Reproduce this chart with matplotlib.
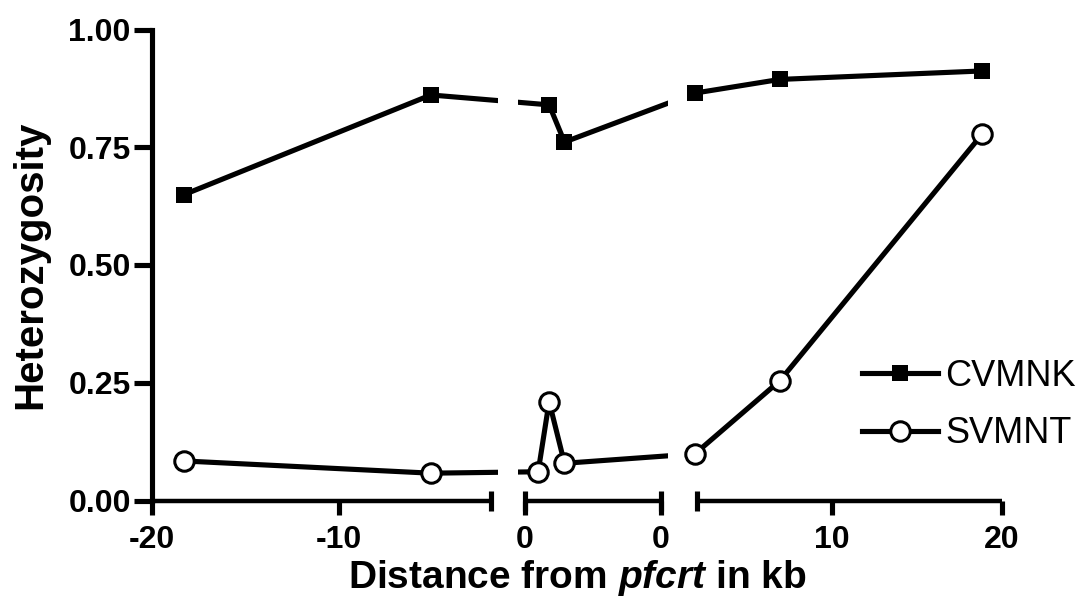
import numpy as np
import matplotlib
matplotlib.use("Agg")
import matplotlib.pyplot as plt
from matplotlib.lines import Line2D
from matplotlib.patches import Rectangle
from matplotlib.ticker import FixedLocator, FixedFormatter, NullLocator

plt.rcParams["font.family"] = "Liberation Sans"
plt.rcParams["mathtext.fontset"] = "custom"
plt.rcParams["mathtext.it"] = "Liberation Sans:italic:bold"
plt.rcParams["mathtext.rm"] = "Liberation Sans:bold"

# length of the pfcrt gene (kb) - the middle panel of the axis
GENE_KB = 3.1

# positions along the locus in kb: upstream < 0, inside gene 0..GENE_KB, downstream > GENE_KB
cvmnk_x = [-18.3, -5.1, 0.55, 0.9, GENE_KB + 1.9, GENE_KB + 6.9, GENE_KB + 18.85]
cvmnk_y = [0.649, 0.861, 0.840, 0.761, 0.865, 0.894, 0.912]

svmnt_x = [-18.3, -5.1, 0.3, 0.55, 0.9, GENE_KB + 1.9, GENE_KB + 6.9, GENE_KB + 18.85]
svmnt_y = [0.084, 0.058, 0.061, 0.210, 0.079, 0.099, 0.254, 0.778]

xticks = [-20, -10, 0, GENE_KB, GENE_KB + 10, GENE_KB + 20]
xtick_labels = ["-20", "-10", "0", "0", "10", "20"]
yticks = [0, 0.25, 0.5, 0.75, 1.0]
ytick_labels = ["0.00", "0.25", "0.50", "0.75", "1.00"]

# the three pieces of the broken x axis
segments = [(-20, -1.9), (0, GENE_KB), (GENE_KB + 2, GENE_KB + 20)]

# piecewise scale: knots in kb -> relative screen length
knot_u = np.array([-120, -20, -1.9, 0, GENE_KB, GENE_KB + 2, GENE_KB + 20, GENE_KB + 120])
knot_v = np.array([-1873, 0, 339.1, 373.3, 509.3, 545, 850, 2544])


def fwd(u):
    return np.interp(u, knot_u, knot_v)


def inv(v):
    return np.interp(v, knot_v, knot_u)


W, H = 1082, 599
fig = plt.figure(figsize=(W / 100, H / 100), dpi=100)
ax = fig.add_axes([151.7 / W, 98.5 / H, 850 / W, 471 / H])
ax.set_xscale("function", functions=(fwd, inv))
ax.set_xlim(-20, GENE_KB + 20)
ax.set_ylim(0, 1)

lw = 3.7
series = [(cvmnk_x, cvmnk_y, "s", "k", 12, 0, "CVMNK"),
          (svmnt_x, svmnt_y, "o", "white", 14, 2.2, "SVMNT")]

handles = []
for xs, ys, mk, fc, ms, mew, name in series:
    # connecting line, cut at the axis breaks
    for a, b in segments:
        ln, = ax.plot(xs, ys, color="k", lw=lw, zorder=2)
        clip = Rectangle((a - 0.4, -1), (b - a) + 0.8, 3, transform=ax.get_xaxis_transform())
        ln.set_clip_path(clip)
    ax.plot(xs, ys, ls="none", marker=mk, ms=ms, mfc=fc, mec="k", mew=mew,
            zorder=3, clip_on=False)
    handles.append(Line2D([], [], color="k", lw=lw, marker=mk, ms=ms, mfc=fc,
                          mec="k", mew=mew, label=name))

# broken x axis
for spine in ["top", "right", "bottom"]:
    ax.spines[spine].set_visible(False)
ax.spines["left"].set_linewidth(lw)
xt = ax.get_xaxis_transform()
for a, b in segments:
    ax.plot([a, b], [0, 0], color="k", lw=3.2, transform=xt, clip_on=False,
            solid_capstyle="butt", zorder=4)
ax.plot([-1.9, 0, GENE_KB, GENE_KB + 2], [0, 0, 0, 0], ls="none", marker="|",
        ms=14.5, mew=lw, color="k", transform=xt, clip_on=False, zorder=4)

ax.xaxis.set_major_locator(FixedLocator(xticks))
ax.xaxis.set_major_formatter(FixedFormatter(xtick_labels))
ax.xaxis.set_minor_locator(NullLocator())
ax.set_yticks(yticks)
ax.set_yticklabels(ytick_labels)
ax.tick_params(axis="x", direction="out", length=10, width=lw, pad=8, labelsize=23)
ax.tick_params(axis="y", direction="out", length=13, width=lw, pad=2, labelsize=23)
for lab in ax.get_xticklabels() + ax.get_yticklabels():
    lab.set_fontweight("bold")

ax.set_xlabel(r"Distance from $\mathit{pfcrt}$ in kb", fontsize=28, fontweight="bold", labelpad=2)
ax.set_ylabel("Heterozygosity", fontsize=29, fontweight="bold", labelpad=14)

ax.legend(handles=handles, loc="center left", bbox_to_anchor=(862 / W, 1 - 405 / H),
          bbox_transform=fig.transFigure, frameon=False, fontsize=26,
          handlelength=2.1, handletextpad=0.2, labelspacing=0.62,
          borderpad=0, borderaxespad=0)

fig.savefig("out.png", dpi=100)
